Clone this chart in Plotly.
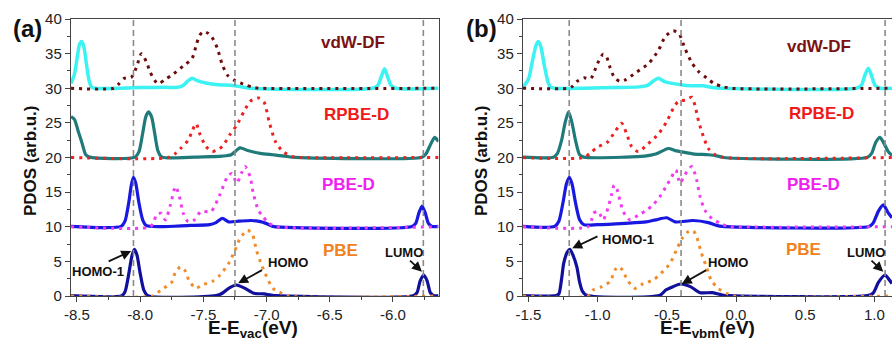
import plotly.graph_objects as go

FONT = "Liberation Sans, Arial, sans-serif"

# ---------------- panel (a): E - E_vac (eV) ----------------
a_vdw_solid = [(-8.547,30.7),(-8.52,32.0),(-8.50,34.2),(-8.48,36.3),(-8.462,36.75),(-8.445,36.0),(-8.425,33.5),(-8.405,31.2),(-8.385,30.2),(-8.36,30.0),(-8.0,30.1),(-7.80,30.15),(-7.72,30.1),(-7.66,30.4),(-7.62,31.1),(-7.59,31.45),(-7.55,31.1),(-7.48,30.75),(-7.38,30.5),(-7.27,30.4),(-7.20,30.2),(-7.12,30.0),(-6.16,30.0),(-6.12,30.4),(-6.09,31.8),(-6.067,32.8),(-6.045,31.8),(-6.015,30.4),(-5.98,30.0),(-5.64,30.0)]
a_vdw_dot = [(-8.547,30),(-8.21,30),(-8.17,30.6),(-8.13,31.4),(-8.07,31.6),(-8.03,33.0),(-7.99,35.0),(-7.95,33.8),(-7.92,32.3),(-7.87,30.8),(-7.85,30.7),(-7.80,31.3),(-7.74,32.0),(-7.66,33.2),(-7.59,34.3),(-7.555,36.3),(-7.53,37.6),(-7.50,38.2),(-7.46,37.9),(-7.43,37.3),(-7.39,35.8),(-7.35,33.4),(-7.31,31.9),(-7.25,31.1),(-7.17,30.5),(-7.10,30.1),(-7.05,30.0),(-5.64,30.0)]
a_rpbe_solid = [(-8.547,25.9),(-8.52,25.5),(-8.49,23.8),(-8.46,22.1),(-8.43,20.4),(-8.40,20.05),(-8.04,20.05),(-8.01,20.8),(-7.98,23.5),(-7.955,25.9),(-7.934,26.6),(-7.91,25.9),(-7.885,23.5),(-7.86,21.0),(-7.83,20.1),(-7.5,20.1),(-7.35,20.2),(-7.28,20.4),(-7.21,21.4),(-7.15,21.0),(-7.05,20.6),(-6.95,20.4),(-6.85,20.2),(-6.80,20.05),(-5.77,20.05),(-5.74,20.5),(-5.70,22.0),(-5.67,22.9),(-5.64,22.3)]
a_rpbe_dot = [(-8.547,20),(-7.78,20),(-7.72,20.6),(-7.68,21.3),(-7.62,22.5),(-7.585,24.0),(-7.557,24.9),(-7.53,23.5),(-7.48,21.6),(-7.43,20.85),(-7.39,21.1),(-7.35,21.6),(-7.29,23.3),(-7.235,24.7),(-7.18,26.6),(-7.13,28.1),(-7.064,28.6),(-7.02,28.0),(-6.98,25.2),(-6.93,22.3),(-6.87,20.85),(-6.79,20.1),(-6.72,20),(-5.64,20)]
a_pbed_solid = [(-8.547,10.05),(-8.15,10.05),(-8.12,10.8),(-8.09,13.5),(-8.07,16.0),(-8.053,17.15),(-8.035,16.3),(-8.01,13.5),(-7.98,11.0),(-7.95,10.15),(-7.60,10.2),(-7.45,10.3),(-7.40,10.6),(-7.35,11.2),(-7.30,10.7),(-7.22,10.8),(-7.12,10.9),(-7.04,10.7),(-6.98,10.3),(-6.95,10.05),(-5.85,10.05),(-5.82,10.5),(-5.795,12.0),(-5.77,13.0),(-5.745,12.0),(-5.72,10.5),(-5.69,10.05),(-5.64,10.05)]
a_pbed_dot = [(-8.547,10),(-7.92,10),(-7.89,10.8),(-7.87,11.8),(-7.835,11.95),(-7.80,11.0),(-7.76,13.2),(-7.72,15.8),(-7.69,14.4),(-7.66,12.0),(-7.62,10.7),(-7.57,11.0),(-7.52,12.2),(-7.44,12.2),(-7.37,14.6),(-7.31,17.2),(-7.275,17.7),(-7.235,16.3),(-7.20,17.7),(-7.17,18.7),(-7.13,17.2),(-7.105,14.8),(-7.065,12.4),(-7.03,11.5),(-6.98,10.5),(-6.92,10.0),(-5.64,10)]
a_pbe_solid = [(-8.547,0.05),(-8.145,0.05),(-8.12,0.6),(-8.09,3.2),(-8.065,5.8),(-8.045,6.75),(-8.025,5.9),(-8.0,3.3),(-7.97,0.8),(-7.94,0.05),(-7.40,0.05),(-7.35,0.4),(-7.30,1.1),(-7.24,1.59),(-7.17,1.1),(-7.10,0.4),(-7.02,0.3),(-6.97,0.15),(-6.92,0.05),(-5.84,0.05),(-5.81,0.5),(-5.785,2.2),(-5.757,3.03),(-5.73,2.2),(-5.705,0.5),(-5.675,0.05),(-5.64,0.05)]
a_pbe_dot = [(-8.547,0),(-7.90,0),(-7.86,0.5),(-7.815,1.1),(-7.75,2.0),(-7.72,3.5),(-7.68,4.2),(-7.65,3.8),(-7.615,2.3),(-7.56,1.1),(-7.51,1.6),(-7.43,2.1),(-7.37,3.0),(-7.30,4.7),(-7.25,6.6),(-7.21,8.3),(-7.15,9.5),(-7.11,8.8),(-7.08,6.6),(-7.04,4.5),(-7.00,2.8),(-6.95,1.1),(-6.88,0.4),(-6.83,0),(-5.64,0)]
a_levels = [-8.053, -7.25, -5.76]          # HOMO-1, HOMO, LUMO
a_xrange = [-8.547, -5.64]
a_ticks = [-8.5, -8.0, -7.5, -7.0, -6.5, -6.0]
a_ticktext = ["-8.5", "-8.0", "-7.5", "-7.0", "-6.5", "-6.0"]

# ---------------- panel (b): E - E_vbm (eV) ----------------
b_vdw_solid = [(-1.539,30.15),(-1.50,31.3),(-1.47,34.0),(-1.445,36.2),(-1.428,36.75),(-1.41,36.0),(-1.385,33.3),(-1.36,31.0),(-1.34,30.15),(-1.31,30.0),(-0.90,30.1),(-0.70,30.2),(-0.64,30.4),(-0.60,31.0),(-0.561,31.45),(-0.52,31.0),(-0.46,30.7),(-0.36,30.4),(-0.24,30.35),(-0.17,30.1),(-0.10,30.0),(0.87,30.0),(0.905,30.4),(0.93,31.8),(0.956,32.9),(0.98,31.8),(1.005,30.4),(1.04,30.0),(1.127,30.0)]
b_vdw_dot = [(-1.539,30),(-1.21,30),(-1.18,30.3),(-1.15,30.97),(-1.10,31.5),(-1.05,31.4),(-1.0,33.6),(-0.96,34.9),(-0.935,34.5),(-0.91,33.0),(-0.88,31.6),(-0.84,31.0),(-0.80,31.2),(-0.72,32.3),(-0.63,33.6),(-0.56,35.5),(-0.51,37.5),(-0.453,38.3),(-0.41,37.8),(-0.37,35.8),(-0.32,33.7),(-0.27,32.4),(-0.21,31.45),(-0.16,30.7),(-0.10,30.25),(-0.04,30.0),(1.127,30)]
b_rpbe_solid = [(-1.539,20.05),(-1.32,20.05),(-1.29,20.6),(-1.26,22.5),(-1.235,25.0),(-1.21,26.6),(-1.185,25.0),(-1.16,22.5),(-1.13,20.4),(-1.10,20.05),(-0.80,20.05),(-0.66,20.2),(-0.58,20.5),(-0.489,21.3),(-0.44,21.0),(-0.40,20.85),(-0.30,20.5),(-0.20,20.4),(-0.13,20.2),(-0.09,20.0),(0.95,20.05),(0.98,20.6),(1.01,22.2),(1.04,22.9),(1.07,22.0),(1.10,20.85),(1.127,20.3)]
b_rpbe_dot = [(-1.539,20),(-1.10,20),(-1.05,20.7),(-1.0,21.5),(-0.93,22.2),(-0.875,23.7),(-0.826,24.95),(-0.79,23.4),(-0.755,21.6),(-0.706,20.85),(-0.635,22.0),(-0.56,23.4),(-0.50,25.2),(-0.453,27.1),(-0.417,28.1),(-0.36,28.3),(-0.32,28.7),(-0.295,27.4),(-0.27,25.2),(-0.235,23.0),(-0.20,21.3),(-0.15,20.4),(-0.09,20.0),(1.127,20)]
b_pbed_solid = [(-1.539,10.05),(-1.31,10.05),(-1.28,10.8),(-1.25,13.5),(-1.225,16.2),(-1.204,17.15),(-1.185,16.2),(-1.16,13.5),(-1.13,11.0),(-1.10,10.3),(-1.0,10.3),(-0.80,10.5),(-0.65,10.7),(-0.58,11.0),(-0.50,11.3),(-0.44,10.7),(-0.31,10.9),(-0.20,10.6),(-0.14,10.2),(-0.10,10.05),(0.96,10.05),(0.99,10.5),(1.03,12.3),(1.064,13.15),(1.10,12.0),(1.127,11.3)]
b_pbed_dot = [(-1.539,10),(-1.07,10),(-1.045,10.9),(-1.03,11.95),(-0.995,12.2),(-0.96,11.0),(-0.925,12.7),(-0.90,14.6),(-0.88,16.0),(-0.86,15.4),(-0.84,13.9),(-0.815,12.2),(-0.766,11.0),(-0.705,11.7),(-0.645,12.4),(-0.60,13.15),(-0.55,14.35),(-0.50,16.0),(-0.465,17.2),(-0.434,18.2),(-0.405,16.3),(-0.37,17.5),(-0.32,18.7),(-0.285,16.8),(-0.26,14.35),(-0.225,12.4),(-0.175,11.2),(-0.115,10.5),(-0.065,10.1),(-0.03,10),(1.127,10)]
b_pbe_solid = [(-1.539,0.05),(-1.30,0.05),(-1.28,0.3),(-1.26,2.5),(-1.245,4.7),(-1.22,6.3),(-1.2,6.75),(-1.18,6.0),(-1.15,4.2),(-1.13,2.0),(-1.11,0.7),(-1.08,0.1),(-0.55,0.1),(-0.505,0.9),(-0.455,1.35),(-0.40,1.73),(-0.33,1.35),(-0.26,0.48),(-0.17,0.48),(-0.10,0.15),(-0.05,0.05),(0.95,0.05),(0.99,0.4),(1.03,2.0),(1.077,3.03),(1.105,2.4),(1.127,1.8)]
b_pbe_dot = [(-1.539,0),(-1.07,0),(-1.03,0.9),(-0.97,1.35),(-0.91,2.1),(-0.875,3.75),(-0.85,4.23),(-0.82,3.75),(-0.785,2.3),(-0.73,1.1),(-0.67,1.8),(-0.60,2.3),(-0.54,3.3),(-0.477,4.7),(-0.43,6.65),(-0.39,8.3),(-0.345,9.3),(-0.31,9.45),(-0.285,8.6),(-0.25,6.2),(-0.21,4.0),(-0.18,2.3),(-0.13,1.1),(-0.07,0.4),(-0.02,0),(1.127,0)]
b_levels = [-1.205, -0.397, 1.077]
b_xrange = [-1.539, 1.127]
b_ticks = [-1.5, -1.0, -0.5, 0.0, 0.5, 1.0]
b_ticktext = ["-1.5", "-1.0", "-0.5", "0.0", "0.5", "1.0"]

y_ticks = [0, 5, 10, 15, 20, 25, 30, 35, 40]
methods = ["vdW-DF", "RPBE-D", "PBE-D", "PBE"]
method_colors = ["#7a1212", "#f01818", "#f020f0", "#f08222"]

# styles
SOLID = {"vdw": ("#3cf2f2", 3.5), "rpbe": ("#1f7a7a", 3.2), "pbed": ("#1818e0", 3.2), "pbe": ("#10109c", 3.2)}
DOT = {"vdw": "#6e0c0c", "rpbe": "#ee2020", "pbed": "#f03cf0", "pbe": "#f08c2c"}

fig = go.Figure()

def add_panel(solid, dotted, xa, ya):
    for key, pts in solid:
        xs, ys = zip(*pts)
        c, w = SOLID[key]
        fig.add_trace(go.Scatter(x=xs, y=ys, mode="lines", xaxis=xa, yaxis=ya,
                                 line=dict(color=c, width=w, shape="spline", smoothing=0.7),
                                 showlegend=False, hoverinfo="skip"))
    for key, pts in dotted:
        xs, ys = zip(*pts)
        fig.add_trace(go.Scatter(x=xs, y=ys, mode="lines", xaxis=xa, yaxis=ya,
                                 line=dict(color=DOT[key], width=3, dash="3px,5px", shape="spline", smoothing=0.7),
                                 showlegend=False, hoverinfo="skip"))

add_panel([("vdw", a_vdw_solid), ("rpbe", a_rpbe_solid), ("pbed", a_pbed_solid), ("pbe", a_pbe_solid)],
          [("vdw", a_vdw_dot), ("rpbe", a_rpbe_dot), ("pbed", a_pbed_dot), ("pbe", a_pbe_dot)], "x", "y")
add_panel([("vdw", b_vdw_solid), ("rpbe", b_rpbe_solid), ("pbed", b_pbed_solid), ("pbe", b_pbe_solid)],
          [("vdw", b_vdw_dot), ("rpbe", b_rpbe_dot), ("pbed", b_pbed_dot), ("pbe", b_pbe_dot)], "x2", "y2")

shapes = []
for lv in a_levels:
    shapes.append(dict(type="line", xref="x", yref="y", x0=lv, x1=lv, y0=0, y1=40,
                       line=dict(color="#8a8a8a", width=1.6, dash="6px,4px")))
for lv in b_levels:
    shapes.append(dict(type="line", xref="x2", yref="y2", x0=lv, x1=lv, y0=0, y1=40,
                       line=dict(color="#8a8a8a", width=1.6, dash="6px,4px")))

# pixel -> paper helpers (layout positions only)
L, T, W, H = 71, 19, 821, 277
def px(p): return (p - L) / W
def py(p): return (T + H - p) / H

ann = []
# method labels
a_lab = [(-6.315, 36.56), (-6.286, 26.16), (-6.352, 16.04), (-6.418, 6.5)]
b_lab = [(0.596, 36.05), (0.618, 26.37), (0.56, 16.11), (0.488, 6.65)]
for (xa, ya, pos) in [("x", "y", a_lab), ("x2", "y2", b_lab)]:
    for m, c, (xx, yy) in zip(methods, method_colors, pos):
        ann.append(dict(x=xx, y=yy, xref=xa, yref=ya, text="<b>%s</b>" % m, showarrow=False,
                        xanchor="center", yanchor="middle",
                        font=dict(family=FONT, size=17, color=c)))

# level labels with arrows
arrows = [
    ("x", "y", "HOMO-1", (-8.332, 3.61), (-8.261, 4.9), (-8.071, 6.5)),
    ("x", "y", "HOMO", (-6.833, 4.84), (-7.0245, 3.86), (-7.2247, 1.83)),
    ("x", "y", "LUMO", (-5.911, 6.29), (-5.877, 5.3), (-5.771, 3.51)),
    ("x2", "y2", "HOMO-1", (-0.784, 8.09), (-0.99, 8.71), (-1.183, 6.89)),
    ("x2", "y2", "HOMO", (-0.058, 4.84), (-0.2045, 3.86), (-0.392, 1.73)),
    ("x2", "y2", "LUMO", (0.939, 6.29), (0.968, 5.3), (1.064, 3.51)),
]
for xa, ya, t, (tx, ty), (sx, sy), (hx, hy) in arrows:
    ann.append(dict(x=tx, y=ty, xref=xa, yref=ya, text="<b>%s</b>" % t, showarrow=False,
                    xanchor="center", yanchor="middle",
                    font=dict(family=FONT, size=13, color="#111111")))
    ann.append(dict(x=hx, y=hy, xref=xa, yref=ya, ax=sx, ay=sy, axref=xa, ayref=ya, text="",
                    showarrow=True, arrowhead=2, arrowsize=1.1, arrowwidth=1.8, arrowcolor="#111111"))

# panel letters, axis titles
for lx, lt in ((27.5, "(a)"), (481.5, "(b)")):
    ann.append(dict(x=px(lx), y=py(28), xref="paper", yref="paper", text="<b>%s</b>" % lt, showarrow=False,
                    xanchor="center", yanchor="middle", font=dict(family=FONT, size=24, color="#111111")))
for xp in (30, 481):
    ann.append(dict(x=px(xp), y=py(161), xref="paper", yref="paper", text="<b>PDOS (arb.u.)</b>",
                    showarrow=False, textangle=-90, xanchor="center", yanchor="middle",
                    font=dict(family=FONT, size=17, color="#111111")))
for xp, t in ((253, "<b>E-E<sub>vac</sub>(eV)</b>"), (707.5, "<b>E-E<sub>vbm</sub>(eV)</b>")):
    ann.append(dict(x=px(xp), y=py(315.5), xref="paper", yref="paper", xanchor="center", yanchor="top",
                    borderpad=0, text=t, showarrow=False, font=dict(family=FONT, size=19, color="#111111")))

axis_common = dict(showline=True, linecolor="#444444", linewidth=1.4, mirror=True, ticks="outside",
                   ticklen=5, tickwidth=1.2, tickcolor="#444444", showgrid=False, zeroline=False,
                   automargin=False, tickfont=dict(family=FONT, size=15, color="#222222"))

fig.update_layout(
    template="none",
    width=892, height=340, margin=dict(l=L, r=0, t=T, b=340 - T - H, pad=0),
    paper_bgcolor="white", plot_bgcolor="white", showlegend=False,
    shapes=shapes, annotations=ann,
    xaxis=dict(domain=[0, px(438.5)], range=a_xrange, tickmode="array", tickvals=a_ticks, ticktext=a_ticktext,
               ticklabelstandoff=0,
               minor=dict(tickmode="linear", tick0=0, dtick=0.25, ticks="outside", ticklen=3, tickcolor="#444444"),
               anchor="y", **axis_common),
    yaxis=dict(domain=[0, 1], range=[0, 40], tickmode="array", tickvals=y_ticks,
               minor=dict(tickmode="linear", tick0=0, dtick=2.5, ticks="outside", ticklen=3, tickcolor="#444444"),
               anchor="x", **axis_common),
    xaxis2=dict(domain=[px(523), 1], range=b_xrange, tickmode="array", tickvals=b_ticks, ticktext=b_ticktext,
                ticklabelstandoff=0,
                minor=dict(tickmode="linear", tick0=0, dtick=0.25, ticks="outside", ticklen=3, tickcolor="#444444"),
                anchor="y2", **axis_common),
    yaxis2=dict(domain=[0, 1], range=[0, 40], tickmode="array", tickvals=y_ticks,
                minor=dict(tickmode="linear", tick0=0, dtick=2.5, ticks="outside", ticklen=3, tickcolor="#444444"),
                anchor="x2", **axis_common),
)

fig.write_html("out.html", config={"displayModeBar": False},
               post_script="document.body.style.margin='0';document.body.style.padding='0';")
